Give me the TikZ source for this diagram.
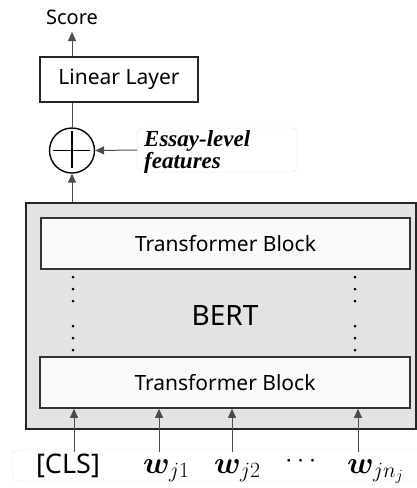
\RequirePackage{fix-cm}
\documentclass[tikz,border=0pt]{standalone}
\usepackage{amsmath,bm,graphicx}
\usepackage{fontspec}
\setmainfont{Noto Sans}
\newfontfamily\essayfont{Liberation Serif}
\usetikzlibrary{arrows.meta}
\begin{document}
\begin{tikzpicture}[x=1pt,y=-1pt,
  box/.style={draw=black!85,line width=1.6pt,fill=white,inner sep=0pt},
  tbox/.style={draw=black!80,line width=1.6pt,fill=black!2,inner sep=0pt},
  conn/.style={draw=black!70,line width=1pt,-{Triangle[length=9pt,width=8pt]}},
  plain/.style={draw=black!70,line width=1pt},
  lbl/.style={inner sep=0pt,font=\fontsize{21}{24}\selectfont},
  tok/.style={inner sep=0pt,font=\fontsize{27}{30}\selectfont},
  wtok/.style={inner sep=0pt,anchor=base west,font=\fontsize{27}{30}\selectfont},
  vdot/.style={circle,fill=black,inner sep=0pt,minimum size=3pt}
]
\useasboundingbox (0,0) rectangle (417,488);
% Score
\node[inner sep=0pt,font=\fontsize{20}{22}\selectfont] (score) at (72,17) {Score};
% Linear layer
\node[box,minimum width=158pt,minimum height=45pt,lbl] (lin) at (119,79.5) {Linear Layer};
\coordinate (scoretip) at (72,32);
\draw[conn] (lin.north -| scoretip) -- (scoretip);
% circle plus
\node[circle,draw=black,line width=1.4pt,minimum size=45pt,inner sep=0pt] (plus) at (72,150.5) {};
\draw[line width=1.8pt] (plus.north) ++(0,4) -- ++(0,37);
\draw[line width=1.8pt] (plus.west) ++(4,0) -- ++(37,0);
\draw[plain] (lin.south -| plus) -- (plus.north);
% essay features
\node[draw=black!12,rounded corners=6pt,fill=white,minimum width=160pt,minimum height=44pt,inner sep=0pt,anchor=west] (essbox) at (137,150) {};
\node[anchor=north west,inner sep=0pt,align=left,font=\essayfont\bfseries\itshape\fontsize{23}{22}\selectfont] (ess) at (144,130) {Essay-level\\features};
\draw[conn] (essbox.west) -- (plus.east);
% BERT
\node[draw=black!85,line width=1.2pt,fill=black!11,minimum width=390pt,minimum height=226pt,inner sep=0pt] (bert) at (221,316) {};
\node[lbl,font=\fontsize{28}{30}\selectfont] (berttxt) at (225,315) {BERT};
\node[tbox,minimum width=369pt,minimum height=51pt,lbl] (tb1) at (225.5,243.5) {Transformer Block};
\node[tbox,minimum width=370pt,minimum height=51pt,lbl] (tb2) at (225,382.5) {Transformer Block};
\draw[conn] (bert.north -| plus) -- (plus.south);
\foreach \x in {73,355}{
  \foreach \y in {277,289,301,326,338,350}{
    \node[vdot] at (\x,\y) {};
  }
}
% tokens
\node[draw=black!12,rounded corners=5pt,minimum width=420pt,minimum height=31pt,inner sep=0pt] (tokbox) at (222,465.5) {};
\node[tok] (cls) at (68,466) {[CLS]};
\node[wtok] (w1) at (143,473) {\scalebox{1.15}{$\bm{w}_{j1}$}};
\node[wtok] (w2) at (214,473) {\scalebox{1.15}{$\bm{w}_{j2}$}};
\node[tok] (dd) at (303,461) {$\cdots$};
\node[wtok] (wn) at (347,473) {\scalebox{1.15}{$\bm{w}_{jn_j}$}};
\coordinate (a1) at (74,452);
\coordinate (a2) at (159,452);
\coordinate (a3) at (232,452);
\coordinate (a4) at (358,452);
\foreach \a in {a1,a2,a3,a4}{
  \draw[conn] (\a) -- (\a |- tb2.south);
}
\end{tikzpicture}
\end{document}
